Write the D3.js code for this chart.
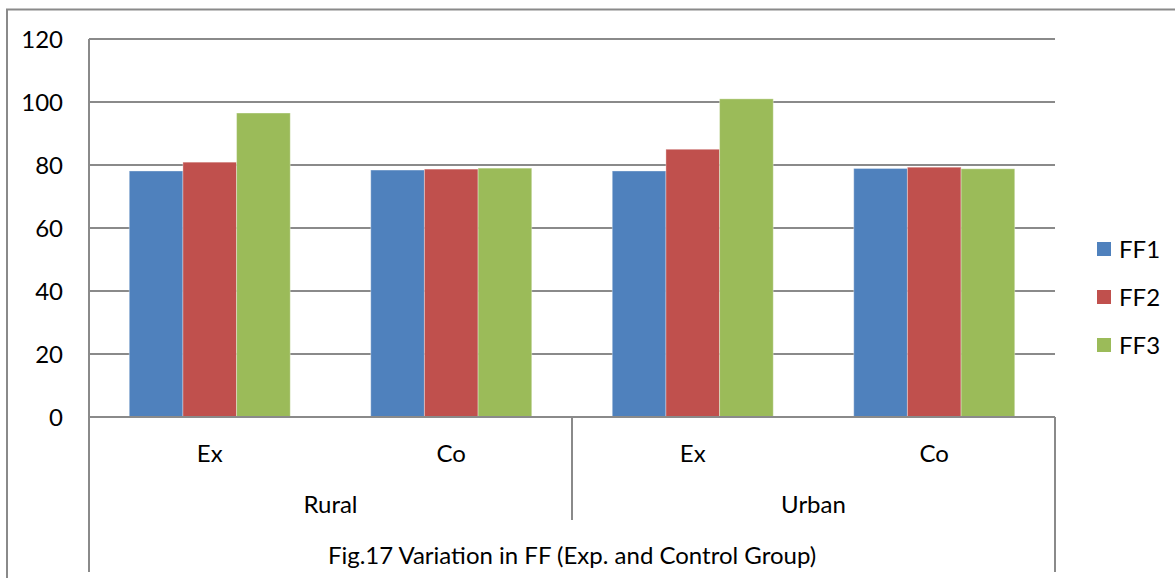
<!DOCTYPE html>
<html>
<head>
<meta charset="utf-8">
<script src="https://cdn.jsdelivr.net/npm/d3@7"></script>
<style>
  html, body { margin: 0; padding: 0; background: #fff; }
  svg { display: block; }
  text { font-family: Lato, "Open Sans", sans-serif; fill: #000; }
</style>
</head>
<body>
<svg id="chart" width="1175" height="578"></svg>
<script>
// Data: FF scores by area and group
const groups = ["Rural", "Urban"];
const subgroups = ["Ex", "Co"];
const seriesNames = ["FF1", "FF2", "FF3"];
const ff1 = [78.1, 78.4, 78.1, 78.9];
const ff2 = [80.9, 78.7, 85.0, 79.3];
const ff3 = [96.5, 79.0, 101.0, 78.8];
const yTicks = [0, 20, 40, 60, 80, 100, 120];
const titleText = "Fig.17 Variation in FF (Exp. and Control Group)";

const colors = ["#4F81BD", "#C0504D", "#9BBB59"];
const seriesValues = [ff1, ff2, ff3];

// Build category rows (group + subgroup)
const cats = [];
groups.forEach(g => subgroups.forEach(s => cats.push({ group: g, sub: s, key: g + "|" + s })));
const rows = cats.map((c, i) => ({
  ...c,
  values: seriesNames.map((name, j) => ({ name, value: seriesValues[j][i] }))
}));

const svg = d3.select("#chart");
const plotLeft = 89, plotRight = 1055, plotTop = 39, plotBase = 417, axisBottom = 572;
const fontSize = 24;
const gridColor = "#8a8a8a";

// Outer chart border
svg.append("rect")
  .attr("x", 7).attr("y", 9.5)
  .attr("width", 1300).attr("height", 700)
  .attr("fill", "none").attr("stroke", gridColor).attr("stroke-width", 2);

const y = d3.scaleLinear().domain([0, 120]).range([plotBase, plotTop]);
const x0 = d3.scaleBand().domain(cats.map(c => c.key)).range([plotLeft, plotRight]).padding(0);
const x1 = d3.scaleBand().domain(seriesNames).range([0, x0.bandwidth()])
  .paddingInner(0).paddingOuter(0.75);
const color = d3.scaleOrdinal().domain(seriesNames).range(colors);

// Horizontal gridlines
svg.append("g").selectAll("line").data(yTicks).join("line")
  .attr("x1", plotLeft).attr("x2", plotRight)
  .attr("y1", d => y(d)).attr("y2", d => y(d))
  .attr("stroke", gridColor).attr("stroke-width", 2);

// Y tick labels
svg.append("g").selectAll("text").data(yTicks).join("text")
  .attr("x", 63).attr("y", d => y(d))
  .attr("text-anchor", "end").attr("dy", "0.36em")
  .style("font-size", fontSize + "px")
  .text(d => d);

// Bars
const catG = svg.append("g").selectAll("g").data(rows).join("g")
  .attr("transform", d => `translate(${x0(d.key)},0)`);
catG.selectAll("rect").data(d => d.values).join("rect")
  .attr("x", d => x1(d.name))
  .attr("y", d => y(d.value))
  .attr("width", x1.bandwidth())
  .attr("height", d => y(0) - y(d.value))
  .attr("fill", d => color(d.name))
  .attr("stroke", "rgba(255,255,255,0.35)").attr("stroke-width", 1);

// Axis lines
svg.append("line").attr("x1", plotLeft).attr("x2", plotLeft).attr("y1", plotTop).attr("y2", axisBottom)
  .attr("stroke", gridColor).attr("stroke-width", 2);
svg.append("line").attr("x1", plotLeft).attr("x2", plotRight).attr("y1", plotBase).attr("y2", plotBase)
  .attr("stroke", gridColor).attr("stroke-width", 2);
// Group separators on the category axis
const sepX = x0(groups[1] + "|" + subgroups[0]);
svg.append("line").attr("x1", sepX).attr("x2", sepX).attr("y1", plotBase).attr("y2", 520)
  .attr("stroke", gridColor).attr("stroke-width", 2);
svg.append("line").attr("x1", plotRight).attr("x2", plotRight).attr("y1", plotBase).attr("y2", axisBottom)
  .attr("stroke", gridColor).attr("stroke-width", 2);

// Subgroup labels
svg.append("g").selectAll("text").data(rows).join("text")
  .attr("x", d => x0(d.key) + x0.bandwidth() / 2).attr("y", 453)
  .attr("text-anchor", "middle").attr("dy", "0.36em")
  .style("font-size", fontSize + "px")
  .text(d => d.sub);

// Group labels
svg.append("g").selectAll("text").data(groups).join("text")
  .attr("x", g => {
    const ks = cats.filter(c => c.group === g).map(c => c.key);
    return (x0(ks[0]) + x0(ks[ks.length - 1]) + x0.bandwidth()) / 2;
  })
  .attr("y", 504).attr("text-anchor", "middle").attr("dy", "0.36em")
  .style("font-size", fontSize + "px")
  .text(g => g);

// Axis title
svg.append("text")
  .attr("x", (plotLeft + plotRight) / 2).attr("y", 555)
  .attr("text-anchor", "middle").attr("dy", "0.36em")
  .style("font-size", fontSize + "px")
  .text(titleText);

// Legend
const legend = svg.append("g").selectAll("g").data(seriesNames).join("g")
  .attr("transform", (d, i) => `translate(1097,${242 + i * 48})`);
legend.append("rect").attr("width", 14).attr("height", 14).attr("fill", d => color(d));
legend.append("text").attr("x", 22).attr("y", 7).attr("dy", "0.36em")
  .style("font-size", fontSize + "px")
  .text(d => d);
</script>
</body>
</html>
